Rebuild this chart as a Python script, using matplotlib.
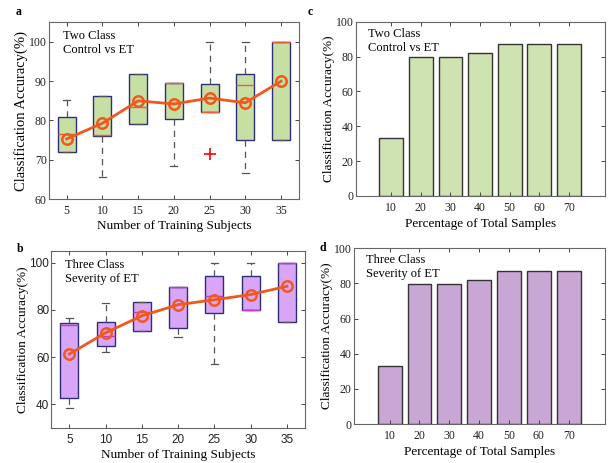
import numpy as np
import matplotlib
matplotlib.use('Agg')
import matplotlib.pyplot as plt


SUBJECTS = [5, 10, 15, 20, 25, 30, 35]
PERCENTS = [10, 20, 30, 40, 50, 60, 70]

# panel a: two class boxplot stats
A_Q1 = [72.0, 76.0, 79.2, 80.3, 82.2, 75.0, 75.0]
A_Q3 = [81.0, 86.3, 91.8, 89.5, 89.3, 91.8, 100.0]
A_MED = [76.5, 76.2, 83.5, 89.5, 82.2, 89.0, 100.0]
A_LO = [72.0, 65.5, 79.2, 68.3, 82.2, 66.7, 75.0]
A_HI = [85.3, 86.3, 91.8, 89.5, 100.0, 100.0, 100.0]
A_MEAN = [75.3, 79.3, 85.0, 84.2, 85.7, 84.5, 90.0]
A_FLIERS = [[], [], [], [], [71.5], [], []]

# panel b: three class boxplot stats
B_Q1 = [42.8, 64.7, 71.0, 72.3, 78.5, 80.0, 75.0]
B_Q3 = [74.3, 75.0, 83.5, 89.5, 94.5, 94.5, 100.0]
B_MED = [73.5, 69.0, 79.2, 89.5, 85.8, 80.0, 100.0]
B_LO = [38.5, 62.2, 71.0, 68.3, 57.0, 80.0, 75.0]
B_HI = [76.5, 83.0, 83.5, 89.5, 100.0, 100.0, 100.0]
B_MEAN = [61.3, 70.3, 77.5, 82.2, 84.3, 86.5, 90.0]

# panels c, d: bar values
C_ACC = [33.3, 79.5, 79.5, 82.0, 87.2, 87.2, 87.2]
D_ACC = [33.3, 79.5, 79.5, 82.0, 87.2, 87.2, 87.2]

SERIF = 'Liberation Serif'
SANS = 'Liberation Sans'
EDGE = '#2e2e78'
ORANGE = '#f0581e'


def style_axes(ax, tick_font, size=8.5):
    ax.tick_params(direction='in', top=True, right=True, length=3,
                   width=0.7, colors='#444444', labelsize=size)
    ax.tick_params(axis='x', pad=4.5)
    ax.tick_params(axis='y', pad=1.5)
    for lab in ax.get_xticklabels() + ax.get_yticklabels():
        lab.set_fontfamily(tick_font)
        lab.set_color('#222222')
    for sp in ax.spines.values():
        sp.set_color('#666666')
        sp.set_linewidth(0.8)


def draw_box(ax, q1, q3, med, lo, hi, mean, fliers, face, med_color,
             ylim, yticks, title, tick_font, tick_size, ylab_size):
    pos = np.arange(1, len(SUBJECTS) + 1)
    stats = []
    for i in range(len(pos)):
        stats.append(dict(q1=q1[i], q3=q3[i], med=med[i], whislo=lo[i],
                          whishi=hi[i], fliers=fliers[i]))
    ax.bxp(stats, positions=pos, widths=0.5, patch_artist=True,
           capwidths=0.2,
           boxprops=dict(facecolor=face, edgecolor=EDGE, linewidth=1.0),
           medianprops=dict(color=med_color, linewidth=1.0),
           whiskerprops=dict(color='#555555', linestyle=(0, (5, 4)),
                             linewidth=0.9),
           capprops=dict(color='#555555', linewidth=0.9),
           flierprops=dict(marker='+', markeredgecolor='red',
                           markersize=8, markeredgewidth=1.2))
    ax.plot(pos, mean, '-o', color=ORANGE, linewidth=2,
            markersize=7.5, markerfacecolor='none', markeredgewidth=1.8,
            zorder=5)
    ax.set_xlim(0.5, 7.5)
    ax.set_ylim(*ylim)
    ax.set_xticks(pos)
    ax.set_xticklabels([str(s) for s in SUBJECTS])
    ax.set_yticks(yticks)
    ax.set_xlabel('Number of Training Subjects', fontfamily=SERIF,
                  fontsize=9.5, labelpad=2)
    ax.set_ylabel('Classification Accuracy(%)', fontfamily=SERIF,
                  fontsize=ylab_size, labelpad=0.5)
    ax.text(0.055, 0.955, title, transform=ax.transAxes, va='top',
            ha='left', fontfamily=SERIF, fontsize=9, linespacing=1.2)
    style_axes(ax, tick_font, tick_size)


def draw_bar(ax, values, face, title):
    ax.bar(PERCENTS, values, width=8, color=face, edgecolor='#333333',
           linewidth=1.0)
    ax.set_xlim(-2, 82)
    ax.set_ylim(0, 100)
    ax.set_xticks(PERCENTS)
    ax.set_yticks(range(0, 101, 20))
    ax.set_xlabel('Percentage of Total Samples', fontfamily=SERIF,
                  fontsize=9.5, labelpad=2.5)
    ax.set_ylabel('Classification Accuracy(%)', fontfamily=SERIF,
                  fontsize=9.5, labelpad=0.5)
    ax.text(0.05, 0.965, title, transform=ax.transAxes, va='top',
            ha='left', fontfamily=SERIF, fontsize=9, linespacing=1.2)
    style_axes(ax, SERIF)


fig = plt.figure(figsize=(6.1, 4.63), dpi=100)
ax_a = fig.add_axes([0.080, 0.570, 0.410, 0.382])
ax_b = fig.add_axes([0.084, 0.076, 0.416, 0.382])
ax_c = fig.add_axes([0.583, 0.577, 0.408, 0.376])
ax_d = fig.add_axes([0.580, 0.084, 0.411, 0.380])

draw_box(ax_a, A_Q1, A_Q3, A_MED, A_LO, A_HI, A_MEAN, A_FLIERS,
         '#c6e0a4', '#e8603a', (60, 105), [60, 70, 80, 90, 100],
         'Two Class\nControl vs ET', SERIF, 8.5, 10.5)
draw_box(ax_b, B_Q1, B_Q3, B_MED, B_LO, B_HI, B_MEAN,
         [[] for _ in SUBJECTS], '#d9a6f7', '#c03cc0', (30, 105),
         [40, 60, 80, 100], 'Three Class\nSeverity of ET', SANS, 8.5, 9.5)
draw_bar(ax_c, C_ACC, '#cfe3b2', 'Two Class\nControl vs ET')
draw_bar(ax_d, D_ACC, '#c9a7d5', 'Three Class\nSeverity of ET')

for lbl, x, y in [('a', 0.030, 0.975), ('b', 0.033, 0.462),
                  ('c', 0.508, 0.975), ('d', 0.530, 0.465)]:
    fig.text(x, y, lbl, fontfamily=SERIF, fontweight='bold', fontsize=8.5,
             va='center', ha='center')

fig.savefig('out.png', dpi=100)
